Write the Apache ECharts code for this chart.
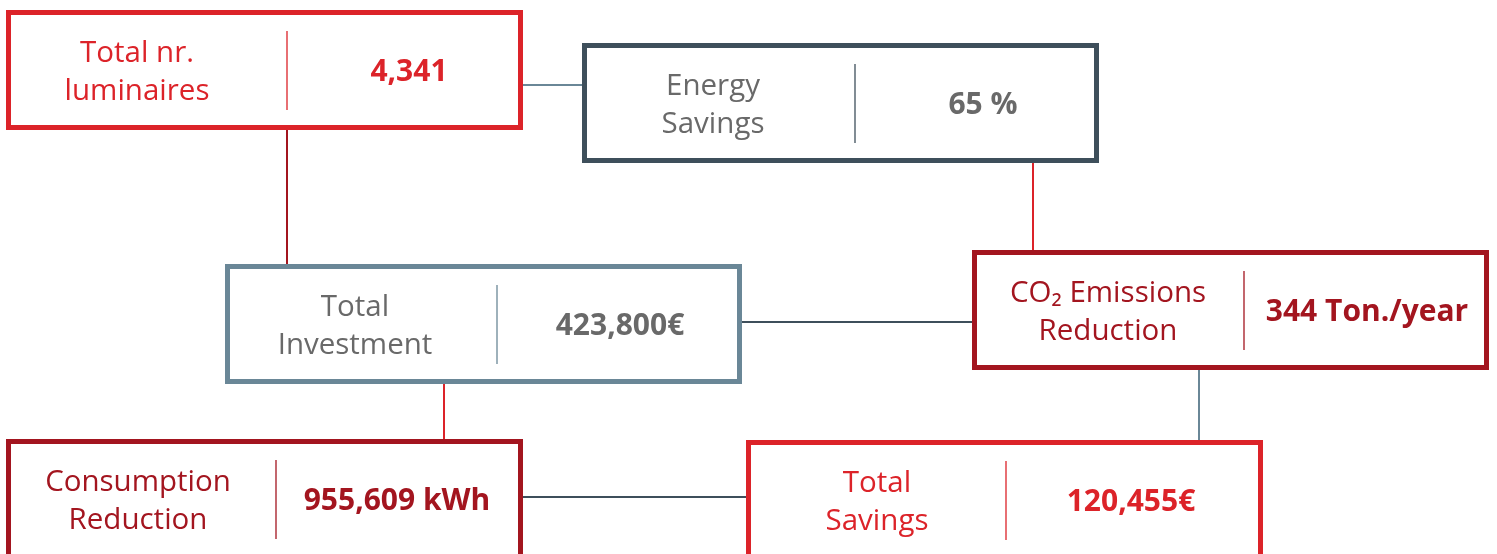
<!DOCTYPE html>
<html>
<head>
<meta charset="utf-8">
<script src="https://cdn.jsdelivr.net/npm/echarts@6/dist/echarts.min.js"></script>
<style>
html,body{margin:0;padding:0;background:#fff;}
#chart{width:1497px;height:554px;}
</style>
</head>
<body>
<div id="chart"></div>
<script>
// ---- content ----
const labels = ['Total nr.\nluminaires', 'Energy\nSavings', 'Total\nInvestment', 'CO\u2082 Emissions\nReduction', 'Consumption\nReduction', 'Total\nSavings'];
const values = ['4,341', '65 %', '423,800\u20ac', '344 Ton./year', '955,609 kWh', '120,455\u20ac'];
// links between boxes: [from, to]
const links = [[0, 1], [0, 2], [1, 3], [2, 3], [2, 4], [3, 5], [4, 5]];

// ---- layout (diagram space, 1497 x 554) ----
const boxLeft = [6, 582, 225, 972, 6, 746];
const boxTop = [10, 43, 264, 250, 439, 440];
const boxW = 517, boxH = 120;
const dividerOffset = [281, 273, 272, 272, 270, 260];
const labelOffset = [131, 131, 130, 136, 132, 131];
const valueOffset = [403, 401, 395, 395, 391, 385];
const linkDir = ['h', 'v', 'v', 'h', 'v', 'v', 'h'];
const linkPos = [85, 287, 1033, 322, 444, 1199, 497];

// ---- styles ----
const RED = '#dc2329', DARKRED = '#a3151f', SLATE = '#3e4f5b', LSLATE = '#6a8797', GREY = '#696969';
const boxBorder = [RED, SLATE, LSLATE, DARKRED, DARKRED, RED];
const boxText = [RED, GREY, GREY, DARKRED, DARKRED, RED];
const linkColor = [LSLATE, DARKRED, RED, SLATE, RED, LSLATE, SLATE];
const FONT = '"Open Sans", sans-serif';
const BORDER = 5;

const boxData = labels.map((l, i) => [boxLeft[i], boxTop[i], boxW, boxH, i]);
const linkData = links.map(([a, b], k) => {
  if (linkDir[k] === 'h') {
    return [boxLeft[a] + boxW, linkPos[k], boxLeft[b], linkPos[k], k];
  }
  return [linkPos[k], boxTop[a] + boxH, linkPos[k], boxTop[b], k];
});

const chart = echarts.init(document.getElementById('chart'), null, {renderer: 'canvas'});
chart.setOption({
  animation: false,
  backgroundColor: '#ffffff',
  grid: {left: 0, right: 0, top: 0, bottom: 0},
  xAxis: {type: 'value', min: 0, max: 1497, show: false},
  yAxis: {type: 'value', min: 0, max: 554, inverse: true, show: false},
  series: [
    {
      type: 'custom',
      clip: false,
      data: linkData,
      z: 1,
      renderItem: function (params, api) {
        const k = api.value(4);
        const p0 = api.coord([api.value(0), api.value(1)]);
        const p1 = api.coord([api.value(2), api.value(3)]);
        return {
          type: 'line',
          shape: {x1: p0[0], y1: p0[1], x2: p1[0], y2: p1[1]},
          style: {stroke: linkColor[k], lineWidth: 2}
        };
      }
    },
    {
      type: 'custom',
      clip: false,
      data: boxData,
      z: 2,
      renderItem: function (params, api) {
        const i = api.value(4);
        const x0 = api.value(0), y0 = api.value(1);
        const p0 = api.coord([x0, y0]);
        const p1 = api.coord([x0 + api.value(2), y0 + api.value(3)]);
        const w = p1[0] - p0[0], h = p1[1] - p0[1];
        const divX = api.coord([x0 + dividerOffset[i], y0])[0];
        const lx = api.coord([x0 + labelOffset[i], y0])[0];
        const vx = api.coord([x0 + valueOffset[i], y0])[0];
        const cy = p0[1] + h / 2;
        return {
          type: 'group',
          children: [
            {
              type: 'rect',
              shape: {x: p0[0] + BORDER / 2, y: p0[1] + BORDER / 2, width: w - BORDER, height: h - BORDER},
              style: {fill: '#fff', stroke: boxBorder[i], lineWidth: BORDER}
            },
            {
              type: 'line',
              shape: {x1: divX, y1: p0[1] + 21, x2: divX, y2: p1[1] - 20},
              style: {stroke: boxBorder[i], lineWidth: 1.3}
            },
            {
              type: 'text',
              style: {
                text: labels[i], x: lx, y: cy + 2.5,
                align: 'center', verticalAlign: 'middle',
                fill: boxText[i], font: '29.5px ' + FONT, lineHeight: 38
              }
            },
            {
              type: 'text',
              style: {
                text: values[i], x: vx, y: cy + 2,
                align: 'center', verticalAlign: 'middle',
                fill: boxText[i], font: 'bold 30px ' + FONT
              }
            }
          ]
        };
      }
    }
  ]
});
</script>
</body>
</html>
